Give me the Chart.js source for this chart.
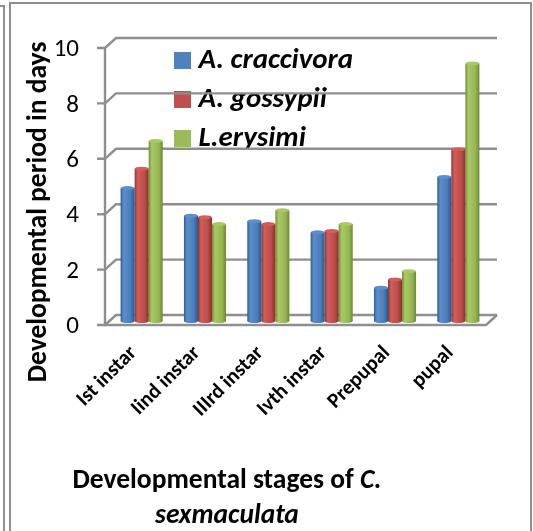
<!DOCTYPE html>
<html>
<head>
<meta charset="utf-8">
<style>html,body{margin:0;padding:0;background:#fff}canvas{display:block}</style>
<script src="https://cdn.jsdelivr.net/npm/chart.js@4"></script>
</head>
<body>
<canvas id="c" width="533" height="531"></canvas>
<script>
const categories = ['Ist instar','Iind instar','IIIrd instar','Ivth instar','Prepupal','pupal'];
const craccivora = [4.8,3.8,3.6,3.2,1.2,5.2];
const gossypii = [5.5,3.75,3.5,3.25,1.5,6.2];
const erysimi = [6.5,3.5,4.0,3.5,1.8,9.3];
const seriesNames = ['A. craccivora','A. gossypii','L.erysimi'];
const colors = ['#4f81bd','#c0504d','#9bbb59'];
const shades = {
  '#4f81bd':['#2f5c92','#5b8fcb','#4a7cb8','#2c5687'],
  '#c0504d':['#8f3431','#d05e5b','#bb4c49','#88302d'],
  '#9bbb59':['#71903a','#a8c963','#96b655','#6c8a36']
};
const yTicks = [0,2,4,6,8,10];
const GRID = '#8e8e8e';
const FONT = 'Carlito, Lato, "Open Sans", sans-serif';

function cyl(ctx, di){
  const chart = ctx.chart, x = chart.scales.x;
  if(ctx.dataIndex === undefined || !x) return colors[di];
  const step = x.getPixelForValue(1) - x.getPixelForValue(0);
  const w = step * 0.665 / 3;
  const cx = x.getPixelForValue(ctx.dataIndex) + (di - 1) * w;
  const g = chart.ctx.createLinearGradient(cx - w/2, 0, cx + w/2, 0);
  const s = shades[colors[di]];
  g.addColorStop(0, s[0]); g.addColorStop(0.22, s[1]); g.addColorStop(0.72, s[2]); g.addColorStop(1, s[3]);
  return g;
}

const scene = {
  id:'scene',
  beforeDatasetsDraw(chart){
    const c = chart.ctx, y = chart.scales.y, a = chart.chartArea;
    c.save();
    c.lineWidth = 2.4; c.strokeStyle = GRID; c.lineCap = 'butt';
    c.beginPath();
    c.moveTo(a.left - 5, y.getPixelForValue(10) + 3); c.lineTo(a.left - 5, y.getPixelForValue(0) + 4);
    c.lineTo(a.right - 4, y.getPixelForValue(0) + 4); c.lineTo(a.right + 7, y.getPixelForValue(0) - 6);
    c.stroke();
    yTicks.forEach(v => {
      const p = y.getPixelForValue(v);
      c.beginPath();
      c.moveTo(a.left - 13, p + 4); c.lineTo(a.left - 5, p + 4);
      c.lineTo(a.left + 6, p - 6); c.lineTo(a.right + 7, p - 6);
      c.stroke();
    });
    c.restore();
  },
  afterDatasetsDraw(chart){
    const c = chart.ctx;
    chart.data.datasets.forEach((ds, di) => {
      const s = shades[colors[di]];
      chart.getDatasetMeta(di).data.forEach(b => {
        const w = b.width;
        c.fillStyle = cyl({chart, dataIndex: b.$context.dataIndex}, di);
        c.beginPath(); c.ellipse(b.x, b.base, w/2, 2, 0, 0, Math.PI*2); c.fill();
        c.fillStyle = s[1];
        c.beginPath(); c.ellipse(b.x, b.y, w/2, 2, 0, 0, Math.PI*2); c.fill();
      });
    });
  },
  afterDraw(chart){
    const c = chart.ctx;
    c.save();
    c.fillStyle = '#8e8e8e';
    c.fillRect(0,5,5,2); c.fillRect(3,5,2,526);
    c.fillRect(9,2,2,529); c.fillRect(9,2,523,2); c.fillRect(530,2,2,529);
    c.fillStyle = '#000';
    c.textBaseline = 'middle'; c.textAlign = 'center';
    c.save();
    c.translate(39, 212); c.rotate(-Math.PI/2);
    c.font = 'bold 27.5px ' + FONT;
    c.fillText('Developmental period in days', 0, 0);
    c.restore();
    c.textAlign = 'left';
    const t1 = 'Developmental stages of ', t2 = 'C.';
    c.font = 'bold 27.5px ' + FONT;
    const w1 = c.measureText(t1).width;
    c.font = 'italic bold 27.5px ' + FONT;
    const w2 = c.measureText(t2).width;
    const xs = 227 - (w1 + w2) / 2;
    c.font = 'bold 27.5px ' + FONT;
    c.fillText(t1, xs, 481);
    c.font = 'italic bold 27.5px ' + FONT;
    c.fillText(t2, xs + w1, 481);
    c.textAlign = 'center';
    c.fillText('sexmaculata', 227, 516);
    c.restore();
  },
  afterLayout(chart){
    const l = chart.legend;
    if(l){ l.left = 181 - l.options.labels.padding; l.top = 46 - l.options.labels.padding; }
  }
};

new Chart(document.getElementById('c'), {
  type:'bar',
  data:{
    labels: categories,
    datasets: [craccivora, gossypii, erysimi].map((d, i) => ({
      label: seriesNames[i], data: d,
      backgroundColor: ctx => cyl(ctx, i),
      borderWidth: 0,
      categoryPercentage: 0.665, barPercentage: 1
    }))
  },
  options:{
    responsive:false, animation:false,
    layout:{padding:{left:0,right:43,top:44,bottom:0}},
    scales:{
      x:{
        grid:{display:false}, border:{display:false},
        ticks:{color:'#000', font:{family:FONT,size:21,weight:'bold'}, minRotation:45, maxRotation:45, padding:12, labelOffset:-8, autoSkip:false},
        afterFit(s){ s.height = 531 - 321; }
      },
      y:{
        min:0, max:10,
        afterBuildTicks(s){ s.ticks = yTicks.map(v => ({value:v})); },
        grid:{display:false}, border:{display:false},
        ticks:{color:'#000', font:{family:FONT,size:25}, padding:23, labelOffset:6},
        afterFit(s){ s.width = 110; }
      }
    },
    plugins:{
      tooltip:{enabled:false},
      title:{display:false},
      legend:{
        position:'chartArea', align:'start',
        labels:{
          color:'#000', font:{family:FONT,size:29,weight:'bold',style:'italic'},
          boxWidth:3, boxHeight:3, padding:10,
          generateLabels(chart){
            return chart.data.datasets.map((d,i)=>({
              text:d.label, fillStyle:colors[i], strokeStyle:colors[i], lineWidth:14, hidden:false, datasetIndex:i
            }));
          }
        }
      }
    }
  },
  plugins:[scene]
});
</script>
</body>
</html>
